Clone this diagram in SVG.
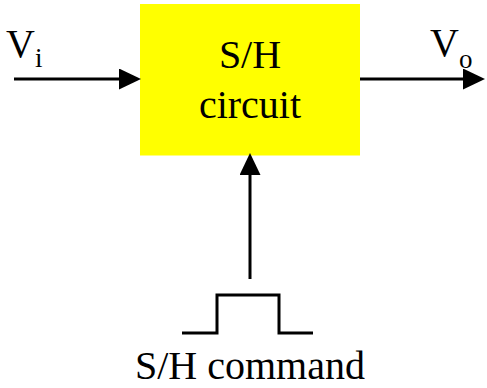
<svg xmlns="http://www.w3.org/2000/svg" width="487" height="388" viewBox="0 0 487 388">
<style>
text{font-family:"Liberation Serif","Times New Roman",serif;font-size:40px;fill:#000}
.sub{font-size:27px}
.ln{stroke:#000;stroke-width:3;fill:none}
</style>
<defs>
<marker id="ah" markerUnits="userSpaceOnUse" markerWidth="22" markerHeight="21" refX="0" refY="10.5" orient="auto" viewBox="0 0 22 21">
<path d="M0,0 L22,10.5 L0,21 Z" fill="#000"/>
</marker>
</defs>
<g id="sh-circuit">
<rect x="140" y="4" width="220" height="151.5" fill="#FFFF00"/>
<text x="250" y="68" text-anchor="middle">S/H</text>
<text x="250" y="118" text-anchor="middle">circuit</text>
</g>
<g id="vi-label"><text x="6" y="57">V<tspan class="sub" dy="10">i</tspan></text></g>
<g id="vo-label"><text x="430" y="56">V<tspan class="sub" dy="12">o</tspan></text></g>
<g id="command">
<polyline class="ln" points="182,333 217,333 217,295 279,295 279,333 313,333"/>
<text x="250" y="379" text-anchor="middle">S/H command</text>
</g>
<g id="connectors">
<line class="ln" x1="14" y1="79" x2="119" y2="79" marker-end="url(#ah)"/>
<line class="ln" x1="360" y1="79" x2="463" y2="79" marker-end="url(#ah)"/>
<line class="ln" x1="250" y1="279" x2="250" y2="175" marker-end="url(#ah)"/>
</g>
</svg>
